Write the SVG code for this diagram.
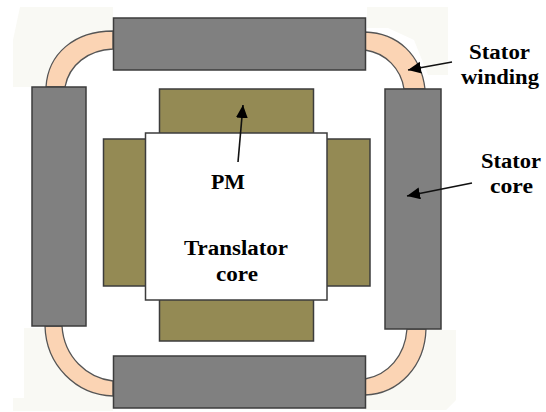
<svg xmlns="http://www.w3.org/2000/svg" width="546" height="412" viewBox="0 0 546 412">
<style>
.core{fill:#808080;stroke:#3c3c3c;stroke-width:1.5}
.pm{fill:#948a54;stroke:#3c3c3c;stroke-width:1.5}
.tr{fill:#fff;stroke:#3c3c3c;stroke-width:1.5}
.wind{fill:#fbd4b4;stroke:#555;stroke-width:1.3}
.patch{fill:#f9f9f4}
.arrow{fill:none;stroke:#111;stroke-width:1.6;marker-end:url(#head)}
text{font-family:"Liberation Serif","Times New Roman",serif;font-weight:bold;font-size:20px;fill:#000;text-anchor:start}
</style>
<defs>
<marker id="head" markerUnits="userSpaceOnUse" markerWidth="14" markerHeight="13" refX="13" refY="6" orient="auto">
<path d="M0 0L13 6L0 12Z" fill="#000"/>
</marker>
</defs>
<rect width="546" height="412" fill="#fff"/>
<g id="background-patches">
<path class="patch" d="M20 7H113V31C80 31 60 50 46 87H13V40Z"/>
<path class="patch" d="M367 7H448V75H428L414 40L388 28H367Z"/>
<path class="patch" d="M24 328H45C46 360 75 395 113 396V411H13V398H24Z"/>
<path class="patch" d="M442 330H456V400L446 410H365V396C400 394 426 365 428 330Z"/>
</g>
<g id="winding-top-left"><path class="wind" d="M46 87C48 54 74 31 113 31V49C88 50 69 65 65 87Z"/></g>
<g id="winding-top-right"><path class="wind" d="M365 32C398 33 421 55 425 89H404C401 69 386 53 365 50Z"/></g>
<g id="winding-bottom-left"><path class="wind" d="M45 326C46 365 76 395 113 396V381C87 378 64 357 62 326Z"/></g>
<g id="winding-bottom-right"><path class="wind" d="M426 329C425 366 399 394 365 395V379C388 375 405 356 407 329Z"/></g>
<g id="stator-top"><rect class="core" x="113.500" y="18" width="252" height="52"/></g>
<g id="stator-left"><rect class="core" x="32" y="87" width="54" height="239"/></g>
<g id="stator-right"><rect class="core" x="385" y="89" width="56" height="240"/></g>
<g id="stator-bottom"><rect class="core" x="113.500" y="356" width="252" height="52"/></g>
<g id="pm-top"><rect class="pm" x="159.500" y="89" width="154" height="46"/></g>
<g id="pm-left"><rect class="pm" x="103.500" y="139" width="44" height="147"/></g>
<g id="pm-right"><rect class="pm" x="326" y="139" width="44" height="147"/></g>
<g id="pm-bottom"><rect class="pm" x="159.500" y="298" width="154" height="43"/></g>
<g id="translator-core"><rect class="tr" x="145.500" y="133" width="181.500" height="167"/></g>
<g id="connectors">
<path class="arrow" d="M452 62L408 70"/>
<path class="arrow" d="M472 183L407 196"/>
<path class="arrow" d="M238 162L243 105"/>
</g>
<g id="labels">
<text x="469" y="59" textLength="61" lengthAdjust="spacingAndGlyphs">Stator</text>
<text x="461" y="84" textLength="78" lengthAdjust="spacingAndGlyphs">winding</text>
<text x="481" y="168" textLength="60" lengthAdjust="spacingAndGlyphs">Stator</text>
<text x="490" y="193" textLength="43" lengthAdjust="spacingAndGlyphs">core</text>
<text x="211" y="189" textLength="34" lengthAdjust="spacingAndGlyphs">PM</text>
<text x="184" y="255" textLength="104" lengthAdjust="spacingAndGlyphs">Translator</text>
<text x="216" y="281" textLength="42" lengthAdjust="spacingAndGlyphs">core</text>
</g>
</svg>
